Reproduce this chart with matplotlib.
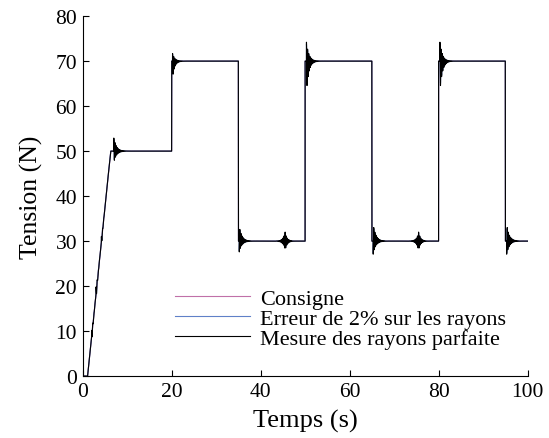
import numpy as np
import matplotlib.pyplot as plt

plt.rcParams['font.family'] = ['Liberation Serif', 'DejaVu Serif']

# consigne (setpoint) breakpoints
t_set = [0, 1.1, 6.3, 20, 20, 35, 35, 50, 50, 65, 65, 80, 80, 95, 95, 100]
v_set = [0, 0, 50, 50, 70, 70, 30, 30, 70, 70, 30, 30, 70, 70, 30, 30]

# ringing events on the measured tension: time, first swing (N), offset (N), decay (s)
ev_time = [2.0, 3.0, 4.2, 7.0, 20.2, 35.2, 45.5, 50.3, 65.3, 75.5, 80.3, 95.3]
ev_amp = [1.5, 1.5, 1.2, 2.7, 2.7, -2.8, 2.0, 5.5, -3.3, 2.0, 5.5, -3.3]
ev_offset = [0, 0, 0, 0.2, -1.0, 0.4, 0, -1.3, 0.4, 0, -1.3, 0.4]
ev_tau = [0.3, 0.3, 0.3, 0.6, 0.5, 0.6, 0.45, 0.55, 0.6, 0.45, 0.55, 0.6]
ev_both_sides = [False, False, False, False, False, False, True, False, False, True, False, False]

# blue curve (2% radius error) rings slightly differently
blue_scale = 0.9

freq = 4.0
t = np.arange(0, 100.001, 0.01)
consigne = np.interp(t, t_set, v_set)


def response(scale):
    y = consigne.copy()
    for te, a, off, tau, both in zip(ev_time, ev_amp, ev_offset, ev_tau, ev_both_sides):
        d = t - te
        if both:
            env = np.exp(-np.abs(d) / tau)
        else:
            env = np.where(d >= 0, np.exp(-np.clip(d, 0, None) / tau), 0.0)
        y += scale * env * (a * np.cos(2 * np.pi * freq * d) + off)
    return y


parfaite = response(1.0)
erreur = response(blue_scale)

fig = plt.figure(figsize=(5.49, 4.39), dpi=100)
ax = fig.add_axes([0.1506, 0.141, 0.8104, 0.82])

ax.plot(t, consigne, color='#c070a8', lw=0.8, label='Consigne')
ax.plot(t, erreur, color='#6080c8', lw=0.8, label='Erreur de 2% sur les rayons')
ax.plot(t, parfaite, color='black', lw=0.8, label='Mesure des rayons parfaite')

ax.set_xlim(0, 100)
ax.set_ylim(0, 80)
ax.set_xticks([0, 20, 40, 60, 80, 100])
ax.set_yticks([0, 10, 20, 30, 40, 50, 60, 70, 80])
ax.spines['top'].set_visible(False)
ax.spines['right'].set_visible(False)
ax.tick_params(direction='in', length=4, labelsize=15.5, pad=4)
ax.set_xlabel('Temps (s)', fontsize=19, labelpad=6)
ax.set_ylabel('Tension (N)', fontsize=18.5, labelpad=9)

ax.legend(loc='upper left', bbox_to_anchor=(0.298, 0.366), bbox_transform=fig.transFigure,
          frameon=False, fontsize=16, handlelength=3.4, handletextpad=0.45,
          labelspacing=-0.03, borderpad=0)

fig.savefig('out.png', dpi=100)
